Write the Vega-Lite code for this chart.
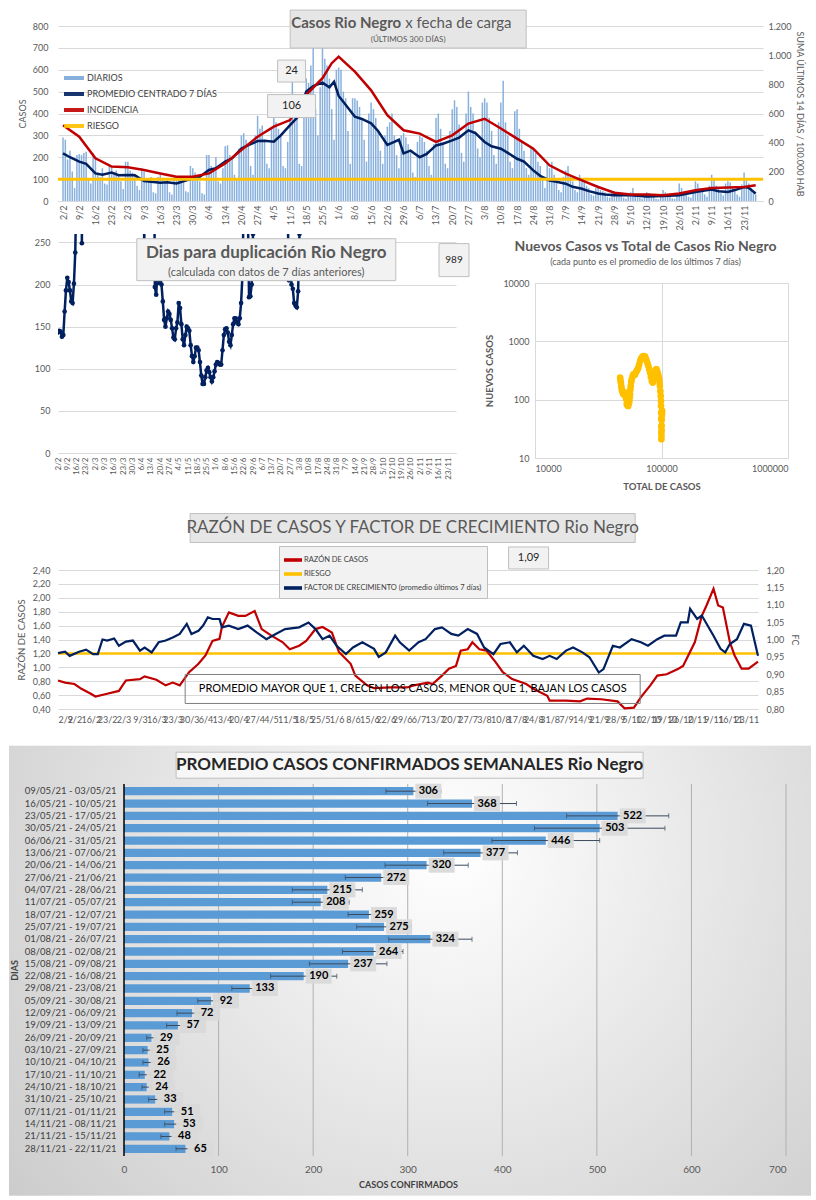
{
"$schema": "https://vega.github.io/schema/vega-lite/v6.json",
"background": "white",
"padding": {"left": 8, "top": 8, "right": 0, "bottom": 0},
"spacing": 20,
"resolve": {"scale": {"color": "independent"}},
"config": {
  "font": "Lato",
  "view": {"stroke": null},
  "locale": {"number": {"decimal": ",", "thousands": ".", "grouping": [3], "currency": ["$", ""]}},
  "axis": {"labelColor": "#595959", "titleColor": "#595959", "labelFontSize": 9, "titleFontSize": 9, "titleFontWeight": "normal", "gridColor": "#D9D9D9", "domainColor": "#D9D9D9", "ticks": false, "domain": false, "labelFont": "Lato", "titleFont": "Lato"},
  "legend": {"labelFont": "Lato"}
},
"datasets": {
"diarios": [
{"fecha":"2021-02-02","casos":290},{"fecha":"2021-02-03","casos":280},{"fecha":"2021-02-04","casos":190},{"fecha":"2021-02-05","casos":230},{"fecha":"2021-02-06","casos":135},{"fecha":"2021-02-07","casos":60},{"fecha":"2021-02-08","casos":210},
{"fecha":"2021-02-09","casos":215},{"fecha":"2021-02-10","casos":210},{"fecha":"2021-02-11","casos":220},{"fecha":"2021-02-12","casos":225},{"fecha":"2021-02-13","casos":100},{"fecha":"2021-02-14","casos":80},{"fecha":"2021-02-15","casos":220},
{"fecha":"2021-02-16","casos":200},{"fecha":"2021-02-17","casos":130},{"fecha":"2021-02-18","casos":110},{"fecha":"2021-02-19","casos":150},{"fecha":"2021-02-20","casos":80},{"fecha":"2021-02-21","casos":75},{"fecha":"2021-02-22","casos":165},
{"fecha":"2021-02-23","casos":160},{"fecha":"2021-02-24","casos":130},{"fecha":"2021-02-25","casos":140},{"fecha":"2021-02-26","casos":120},{"fecha":"2021-02-27","casos":90},{"fecha":"2021-02-28","casos":55},{"fecha":"2021-03-01","casos":180},
{"fecha":"2021-03-02","casos":180},{"fecha":"2021-03-03","casos":140},{"fecha":"2021-03-04","casos":130},{"fecha":"2021-03-05","casos":125},{"fecha":"2021-03-06","casos":70},{"fecha":"2021-03-07","casos":50},{"fecha":"2021-03-08","casos":150},
{"fecha":"2021-03-09","casos":135},{"fecha":"2021-03-10","casos":100},{"fecha":"2021-03-11","casos":95},{"fecha":"2021-03-12","casos":110},{"fecha":"2021-03-13","casos":40},{"fecha":"2021-03-14","casos":35},{"fecha":"2021-03-15","casos":110},
{"fecha":"2021-03-16","casos":120},{"fecha":"2021-03-17","casos":100},{"fecha":"2021-03-18","casos":90},{"fecha":"2021-03-19","casos":95},{"fecha":"2021-03-20","casos":40},{"fecha":"2021-03-21","casos":30},{"fecha":"2021-03-22","casos":110},
{"fecha":"2021-03-23","casos":110},{"fecha":"2021-03-24","casos":95},{"fecha":"2021-03-25","casos":100},{"fecha":"2021-03-26","casos":85},{"fecha":"2021-03-27","casos":45},{"fecha":"2021-03-28","casos":40},{"fecha":"2021-03-29","casos":160},
{"fecha":"2021-03-30","casos":150},{"fecha":"2021-03-31","casos":130},{"fecha":"2021-04-01","casos":120},{"fecha":"2021-04-02","casos":90},{"fecha":"2021-04-03","casos":35},{"fecha":"2021-04-04","casos":30},{"fecha":"2021-04-05","casos":210},
{"fecha":"2021-04-06","casos":210},{"fecha":"2021-04-07","casos":160},{"fecha":"2021-04-08","casos":140},{"fecha":"2021-04-09","casos":200},{"fecha":"2021-04-10","casos":90},{"fecha":"2021-04-11","casos":80},{"fecha":"2021-04-12","casos":150},
{"fecha":"2021-04-13","casos":250},{"fecha":"2021-04-14","casos":255},{"fecha":"2021-04-15","casos":210},{"fecha":"2021-04-16","casos":190},{"fecha":"2021-04-17","casos":120},{"fecha":"2021-04-18","casos":100},{"fecha":"2021-04-19","casos":240},
{"fecha":"2021-04-20","casos":300},{"fecha":"2021-04-21","casos":310},{"fecha":"2021-04-22","casos":280},{"fecha":"2021-04-23","casos":260},{"fecha":"2021-04-24","casos":160},{"fecha":"2021-04-25","casos":120},{"fecha":"2021-04-26","casos":300},
{"fecha":"2021-04-27","casos":390},{"fecha":"2021-04-28","casos":330},{"fecha":"2021-04-29","casos":345},{"fecha":"2021-04-30","casos":280},{"fecha":"2021-05-01","casos":170},{"fecha":"2021-05-02","casos":150},{"fecha":"2021-05-03","casos":330},
{"fecha":"2021-05-04","casos":380},{"fecha":"2021-05-05","casos":360},{"fecha":"2021-05-06","casos":330},{"fecha":"2021-05-07","casos":300},{"fecha":"2021-05-08","casos":160},{"fecha":"2021-05-09","casos":150},{"fecha":"2021-05-10","casos":270},
{"fecha":"2021-05-11","casos":450},{"fecha":"2021-05-12","casos":550},{"fecha":"2021-05-13","casos":420},{"fecha":"2021-05-14","casos":390},{"fecha":"2021-05-15","casos":170},{"fecha":"2021-05-16","casos":160},{"fecha":"2021-05-17","casos":380},
{"fecha":"2021-05-18","casos":560},{"fecha":"2021-05-19","casos":540},{"fecha":"2021-05-20","casos":620},{"fecha":"2021-05-21","casos":700},{"fecha":"2021-05-22","casos":420},{"fecha":"2021-05-23","casos":300},{"fecha":"2021-05-24","casos":520},
{"fecha":"2021-05-25","casos":700},{"fecha":"2021-05-26","casos":650},{"fecha":"2021-05-27","casos":620},{"fecha":"2021-05-28","casos":560},{"fecha":"2021-05-29","casos":420},{"fecha":"2021-05-30","casos":280},{"fecha":"2021-05-31","casos":600},
{"fecha":"2021-06-01","casos":610},{"fecha":"2021-06-02","casos":600},{"fecha":"2021-06-03","casos":500},{"fecha":"2021-06-04","casos":470},{"fecha":"2021-06-05","casos":320},{"fecha":"2021-06-06","casos":170},{"fecha":"2021-06-07","casos":470},
{"fecha":"2021-06-08","casos":470},{"fecha":"2021-06-09","casos":460},{"fecha":"2021-06-10","casos":430},{"fecha":"2021-06-11","casos":380},{"fecha":"2021-06-12","casos":280},{"fecha":"2021-06-13","casos":180},{"fecha":"2021-06-14","casos":400},
{"fecha":"2021-06-15","casos":450},{"fecha":"2021-06-16","casos":420},{"fecha":"2021-06-17","casos":380},{"fecha":"2021-06-18","casos":320},{"fecha":"2021-06-19","casos":230},{"fecha":"2021-06-20","casos":170},{"fecha":"2021-06-21","casos":300},
{"fecha":"2021-06-22","casos":340},{"fecha":"2021-06-23","casos":360},{"fecha":"2021-06-24","casos":400},{"fecha":"2021-06-25","casos":300},{"fecha":"2021-06-26","casos":210},{"fecha":"2021-06-27","casos":150},{"fecha":"2021-06-28","casos":300},
{"fecha":"2021-06-29","casos":310},{"fecha":"2021-06-30","casos":290},{"fecha":"2021-07-01","casos":260},{"fecha":"2021-07-02","casos":220},{"fecha":"2021-07-03","casos":130},{"fecha":"2021-07-04","casos":110},{"fecha":"2021-07-05","casos":270},
{"fecha":"2021-07-06","casos":300},{"fecha":"2021-07-07","casos":290},{"fecha":"2021-07-08","casos":270},{"fecha":"2021-07-09","casos":230},{"fecha":"2021-07-10","casos":160},{"fecha":"2021-07-11","casos":120},{"fecha":"2021-07-12","casos":260},
{"fecha":"2021-07-13","casos":380},{"fecha":"2021-07-14","casos":400},{"fecha":"2021-07-15","casos":330},{"fecha":"2021-07-16","casos":270},{"fecha":"2021-07-17","casos":170},{"fecha":"2021-07-18","casos":150},{"fecha":"2021-07-19","casos":320},
{"fecha":"2021-07-20","casos":420},{"fecha":"2021-07-21","casos":460},{"fecha":"2021-07-22","casos":430},{"fecha":"2021-07-23","casos":350},{"fecha":"2021-07-24","casos":220},{"fecha":"2021-07-25","casos":180},{"fecha":"2021-07-26","casos":400},
{"fecha":"2021-07-27","casos":500},{"fecha":"2021-07-28","casos":430},{"fecha":"2021-07-29","casos":400},{"fecha":"2021-07-30","casos":320},{"fecha":"2021-07-31","casos":240},{"fecha":"2021-08-01","casos":200},{"fecha":"2021-08-02","casos":450},
{"fecha":"2021-08-03","casos":470},{"fecha":"2021-08-04","casos":450},{"fecha":"2021-08-05","casos":380},{"fecha":"2021-08-06","casos":320},{"fecha":"2021-08-07","casos":210},{"fecha":"2021-08-08","casos":170},{"fecha":"2021-08-09","casos":360},
{"fecha":"2021-08-10","casos":450},{"fecha":"2021-08-11","casos":550},{"fecha":"2021-08-12","casos":360},{"fecha":"2021-08-13","casos":300},{"fecha":"2021-08-14","casos":180},{"fecha":"2021-08-15","casos":150},{"fecha":"2021-08-16","casos":410},
{"fecha":"2021-08-17","casos":420},{"fecha":"2021-08-18","casos":330},{"fecha":"2021-08-19","casos":270},{"fecha":"2021-08-20","casos":230},{"fecha":"2021-08-21","casos":150},{"fecha":"2021-08-22","casos":120},{"fecha":"2021-08-23","casos":250},
{"fecha":"2021-08-24","casos":240},{"fecha":"2021-08-25","casos":220},{"fecha":"2021-08-26","casos":180},{"fecha":"2021-08-27","casos":160},{"fecha":"2021-08-28","casos":100},{"fecha":"2021-08-29","casos":60},{"fecha":"2021-08-30","casos":170},
{"fecha":"2021-08-31","casos":150},{"fecha":"2021-09-01","casos":180},{"fecha":"2021-09-02","casos":120},{"fecha":"2021-09-03","casos":100},{"fecha":"2021-09-04","casos":50},{"fecha":"2021-09-05","casos":40},{"fecha":"2021-09-06","casos":110},
{"fecha":"2021-09-07","casos":140},{"fecha":"2021-09-08","casos":160},{"fecha":"2021-09-09","casos":110},{"fecha":"2021-09-10","casos":90},{"fecha":"2021-09-11","casos":50},{"fecha":"2021-09-12","casos":40},{"fecha":"2021-09-13","casos":120},
{"fecha":"2021-09-14","casos":100},{"fecha":"2021-09-15","casos":90},{"fecha":"2021-09-16","casos":70},{"fecha":"2021-09-17","casos":60},{"fecha":"2021-09-18","casos":30},{"fecha":"2021-09-19","casos":25},{"fecha":"2021-09-20","casos":60},
{"fecha":"2021-09-21","casos":70},{"fecha":"2021-09-22","casos":50},{"fecha":"2021-09-23","casos":45},{"fecha":"2021-09-24","casos":40},{"fecha":"2021-09-25","casos":20},{"fecha":"2021-09-26","casos":15},{"fecha":"2021-09-27","casos":40},
{"fecha":"2021-09-28","casos":45},{"fecha":"2021-09-29","casos":35},{"fecha":"2021-09-30","casos":30},{"fecha":"2021-10-01","casos":25},{"fecha":"2021-10-02","casos":15},{"fecha":"2021-10-03","casos":10},{"fecha":"2021-10-04","casos":35},
{"fecha":"2021-10-05","casos":40},{"fecha":"2021-10-06","casos":60},{"fecha":"2021-10-07","casos":35},{"fecha":"2021-10-08","casos":25},{"fecha":"2021-10-09","casos":15},{"fecha":"2021-10-10","casos":10},{"fecha":"2021-10-11","casos":30},
{"fecha":"2021-10-12","casos":40},{"fecha":"2021-10-13","casos":35},{"fecha":"2021-10-14","casos":25},{"fecha":"2021-10-15","casos":20},{"fecha":"2021-10-16","casos":10},{"fecha":"2021-10-17","casos":8},{"fecha":"2021-10-18","casos":30},
{"fecha":"2021-10-19","casos":50},{"fecha":"2021-10-20","casos":40},{"fecha":"2021-10-21","casos":30},{"fecha":"2021-10-22","casos":25},{"fecha":"2021-10-23","casos":12},{"fecha":"2021-10-24","casos":10},{"fecha":"2021-10-25","casos":35},
{"fecha":"2021-10-26","casos":80},{"fecha":"2021-10-27","casos":60},{"fecha":"2021-10-28","casos":40},{"fecha":"2021-10-29","casos":35},{"fecha":"2021-10-30","casos":20},{"fecha":"2021-10-31","casos":15},{"fecha":"2021-11-01","casos":50},
{"fecha":"2021-11-02","casos":90},{"fecha":"2021-11-03","casos":80},{"fecha":"2021-11-04","casos":60},{"fecha":"2021-11-05","casos":50},{"fecha":"2021-11-06","casos":30},{"fecha":"2021-11-07","casos":20},{"fecha":"2021-11-08","casos":70},
{"fecha":"2021-11-09","casos":120},{"fecha":"2021-11-10","casos":100},{"fecha":"2021-11-11","casos":70},{"fecha":"2021-11-12","casos":60},{"fecha":"2021-11-13","casos":35},{"fecha":"2021-11-14","casos":25},{"fecha":"2021-11-15","casos":80},
{"fecha":"2021-11-16","casos":90},{"fecha":"2021-11-17","casos":85},{"fecha":"2021-11-18","casos":65},{"fecha":"2021-11-19","casos":55},{"fecha":"2021-11-20","casos":30},{"fecha":"2021-11-21","casos":20},{"fecha":"2021-11-22","casos":75},
{"fecha":"2021-11-23","casos":130},{"fecha":"2021-11-24","casos":100},{"fecha":"2021-11-25","casos":80},{"fecha":"2021-11-26","casos":60},{"fecha":"2021-11-27","casos":40},{"fecha":"2021-11-28","casos":30}
],
"prom": [
{"fecha":"2021-02-02","valor":218},{"fecha":"2021-02-05","valor":200},{"fecha":"2021-02-09","valor":180},{"fecha":"2021-02-12","valor":170},{"fecha":"2021-02-16","valor":126},{"fecha":"2021-02-19","valor":120},{"fecha":"2021-02-23","valor":130},{"fecha":"2021-02-26","valor":118},
{"fecha":"2021-03-02","valor":119},{"fecha":"2021-03-05","valor":118},{"fecha":"2021-03-09","valor":91},{"fecha":"2021-03-12","valor":88},{"fecha":"2021-03-16","valor":84},{"fecha":"2021-03-19","valor":86},{"fecha":"2021-03-23","valor":80},{"fecha":"2021-03-26","valor":90},{"fecha":"2021-03-30","valor":104},
{"fecha":"2021-04-02","valor":110},{"fecha":"2021-04-06","valor":142},{"fecha":"2021-04-09","valor":150},{"fecha":"2021-04-13","valor":180},{"fecha":"2021-04-16","valor":195},{"fecha":"2021-04-20","valor":240},{"fecha":"2021-04-23","valor":255},{"fecha":"2021-04-27","valor":274},{"fecha":"2021-04-30","valor":275},
{"fecha":"2021-05-04","valor":271},{"fecha":"2021-05-07","valor":300},{"fecha":"2021-05-11","valor":347},{"fecha":"2021-05-14","valor":380},{"fecha":"2021-05-18","valor":500},{"fecha":"2021-05-21","valor":525},{"fecha":"2021-05-25","valor":541},{"fecha":"2021-05-28","valor":520},{"fecha":"2021-05-30","valor":545},
{"fecha":"2021-06-01","valor":480},{"fecha":"2021-06-04","valor":440},{"fecha":"2021-06-08","valor":385},{"fecha":"2021-06-11","valor":375},{"fecha":"2021-06-15","valor":355},{"fecha":"2021-06-18","valor":320},{"fecha":"2021-06-22","valor":256},{"fecha":"2021-06-25","valor":270},{"fecha":"2021-06-27","valor":280},{"fecha":"2021-06-29","valor":218},
{"fecha":"2021-07-02","valor":230},{"fecha":"2021-07-06","valor":200},{"fecha":"2021-07-09","valor":215},{"fecha":"2021-07-13","valor":254},{"fecha":"2021-07-16","valor":262},{"fecha":"2021-07-20","valor":277},{"fecha":"2021-07-23","valor":290},{"fecha":"2021-07-27","valor":323},{"fecha":"2021-07-30","valor":310},
{"fecha":"2021-08-03","valor":270},{"fecha":"2021-08-06","valor":250},{"fecha":"2021-08-10","valor":239},{"fecha":"2021-08-13","valor":220},{"fecha":"2021-08-17","valor":193},{"fecha":"2021-08-20","valor":180},{"fecha":"2021-08-24","valor":140},{"fecha":"2021-08-27","valor":115},{"fecha":"2021-08-31","valor":94},
{"fecha":"2021-09-03","valor":88},{"fecha":"2021-09-07","valor":79},{"fecha":"2021-09-10","valor":65},{"fecha":"2021-09-14","valor":56},{"fecha":"2021-09-17","valor":45},{"fecha":"2021-09-21","valor":34},{"fecha":"2021-09-24","valor":30},{"fecha":"2021-09-28","valor":26},
{"fecha":"2021-10-05","valor":26},{"fecha":"2021-10-12","valor":21},{"fecha":"2021-10-19","valor":23},{"fecha":"2021-10-26","valor":26},
{"fecha":"2021-11-02","valor":41},{"fecha":"2021-11-06","valor":48},{"fecha":"2021-11-09","valor":52},{"fecha":"2021-11-12","valor":45},{"fecha":"2021-11-16","valor":41},{"fecha":"2021-11-19","valor":50},{"fecha":"2021-11-23","valor":64},{"fecha":"2021-11-25","valor":60},{"fecha":"2021-11-28","valor":34}
],
"incid": [
{"fecha":"2021-02-02","valor":520},{"fecha":"2021-02-09","valor":441},{"fecha":"2021-02-16","valor":293},{"fecha":"2021-02-23","valor":236},{"fecha":"2021-03-02","valor":231},{"fecha":"2021-03-09","valor":213},{"fecha":"2021-03-16","valor":189},{"fecha":"2021-03-23","valor":167},{"fecha":"2021-03-30","valor":167},
{"fecha":"2021-04-06","valor":189},{"fecha":"2021-04-13","valor":258},{"fecha":"2021-04-20","valor":350},{"fecha":"2021-04-27","valor":441},{"fecha":"2021-05-04","valor":510},{"fecha":"2021-05-11","valor":555},{"fecha":"2021-05-18","valor":728},{"fecha":"2021-05-25","valor":842},{"fecha":"2021-05-29","valor":945},
{"fecha":"2021-06-01","valor":990},{"fecha":"2021-06-04","valor":945},{"fecha":"2021-06-08","valor":887},{"fecha":"2021-06-15","valor":759},{"fecha":"2021-06-22","valor":588},{"fecha":"2021-06-29","valor":485},{"fecha":"2021-07-06","valor":462},{"fecha":"2021-07-13","valor":405},{"fecha":"2021-07-20","valor":450},{"fecha":"2021-07-27","valor":531},
{"fecha":"2021-08-03","valor":564},{"fecha":"2021-08-10","valor":497},{"fecha":"2021-08-17","valor":428},{"fecha":"2021-08-24","valor":359},{"fecha":"2021-08-31","valor":245},{"fecha":"2021-09-07","valor":188},{"fecha":"2021-09-14","valor":141},{"fecha":"2021-09-21","valor":96},{"fecha":"2021-09-28","valor":57},
{"fecha":"2021-10-05","valor":45},{"fecha":"2021-10-12","valor":44},{"fecha":"2021-10-19","valor":39},{"fecha":"2021-10-26","valor":51},{"fecha":"2021-11-02","valor":74},{"fecha":"2021-11-09","valor":89},{"fecha":"2021-11-16","valor":92},{"fecha":"2021-11-23","valor":96},{"fecha":"2021-11-28","valor":108}
],
"duplicacion": [
{"fecha":"2021-02-02","dias":143},{"fecha":"2021-02-03","dias":145},{"fecha":"2021-02-04","dias":144},{"fecha":"2021-02-05","dias":138},{"fecha":"2021-02-06","dias":140},{"fecha":"2021-02-07","dias":168},{"fecha":"2021-02-08","dias":193},{"fecha":"2021-02-09","dias":208},{"fecha":"2021-02-10","dias":203},{"fecha":"2021-02-11","dias":193},{"fecha":"2021-02-12","dias":180},{"fecha":"2021-02-13","dias":178},{"fecha":"2021-02-14","dias":201},{"fecha":"2021-02-15","dias":238},{"fecha":"2021-02-16","dias":320},{"fecha":"2021-02-17","dias":600},
{"fecha":"2021-02-19","dias":600},{"fecha":"2021-02-20","dias":249},{"fecha":"2021-02-21","dias":600},{"fecha":"2021-03-14","dias":900},{"fecha":"2021-04-03","dias":900},{"fecha":"2021-04-07","dias":600},{"fecha":"2021-04-08","dias":235},{"fecha":"2021-04-09","dias":600},{"fecha":"2021-04-15","dias":500},
{"fecha":"2021-04-16","dias":197},{"fecha":"2021-04-17","dias":188},{"fecha":"2021-04-18","dias":215},{"fecha":"2021-04-19","dias":202},{"fecha":"2021-04-20","dias":210},{"fecha":"2021-04-21","dias":200},{"fecha":"2021-04-22","dias":180},{"fecha":"2021-04-23","dias":158},{"fecha":"2021-04-24","dias":150},{"fecha":"2021-04-25","dias":160},{"fecha":"2021-04-26","dias":168},{"fecha":"2021-04-27","dias":165},{"fecha":"2021-04-28","dias":158},{"fecha":"2021-04-29","dias":148},{"fecha":"2021-04-30","dias":137},
{"fecha":"2021-05-01","dias":135},{"fecha":"2021-05-02","dias":148},{"fecha":"2021-05-03","dias":155},{"fecha":"2021-05-04","dias":178},{"fecha":"2021-05-05","dias":172},{"fecha":"2021-05-06","dias":153},{"fecha":"2021-05-07","dias":135},{"fecha":"2021-05-08","dias":128},{"fecha":"2021-05-09","dias":140},{"fecha":"2021-05-10","dias":150},{"fecha":"2021-05-11","dias":148},{"fecha":"2021-05-12","dias":145},{"fecha":"2021-05-13","dias":128},{"fecha":"2021-05-14","dias":115},{"fecha":"2021-05-15","dias":108},{"fecha":"2021-05-16","dias":115},{"fecha":"2021-05-17","dias":125},{"fecha":"2021-05-18","dias":125},{"fecha":"2021-05-19","dias":122},{"fecha":"2021-05-20","dias":108},{"fecha":"2021-05-21","dias":92},{"fecha":"2021-05-22","dias":82},{"fecha":"2021-05-23","dias":82},{"fecha":"2021-05-24","dias":90},{"fecha":"2021-05-25","dias":98},{"fecha":"2021-05-26","dias":101},{"fecha":"2021-05-27","dias":96},{"fecha":"2021-05-28","dias":90},{"fecha":"2021-05-29","dias":85},{"fecha":"2021-05-30","dias":90},{"fecha":"2021-05-31","dias":97},
{"fecha":"2021-06-01","dias":105},{"fecha":"2021-06-02","dias":108},{"fecha":"2021-06-03","dias":107},{"fecha":"2021-06-04","dias":105},{"fecha":"2021-06-05","dias":105},{"fecha":"2021-06-06","dias":122},{"fecha":"2021-06-07","dias":140},{"fecha":"2021-06-08","dias":147},{"fecha":"2021-06-09","dias":148},{"fecha":"2021-06-10","dias":143},{"fecha":"2021-06-11","dias":132},{"fecha":"2021-06-12","dias":128},{"fecha":"2021-06-13","dias":140},{"fecha":"2021-06-14","dias":153},{"fecha":"2021-06-15","dias":160},{"fecha":"2021-06-16","dias":160},{"fecha":"2021-06-17","dias":155},{"fecha":"2021-06-18","dias":153},{"fecha":"2021-06-19","dias":160},{"fecha":"2021-06-20","dias":178},{"fecha":"2021-06-21","dias":210},{"fecha":"2021-06-22","dias":300},{"fecha":"2021-06-23","dias":400},{"fecha":"2021-06-24","dias":350},{"fecha":"2021-06-25","dias":300},{"fecha":"2021-06-26","dias":185},{"fecha":"2021-06-27","dias":186},{"fecha":"2021-06-28","dias":200},{"fecha":"2021-06-29","dias":260},{"fecha":"2021-06-30","dias":400},
{"fecha":"2021-07-10","dias":900},{"fecha":"2021-07-24","dias":400},{"fecha":"2021-07-25","dias":300},{"fecha":"2021-07-26","dias":205},{"fecha":"2021-07-27","dias":230},{"fecha":"2021-07-28","dias":200},{"fecha":"2021-07-29","dias":195},{"fecha":"2021-07-30","dias":178},{"fecha":"2021-07-31","dias":175},{"fecha":"2021-08-01","dias":173},{"fecha":"2021-08-02","dias":192},{"fecha":"2021-08-03","dias":260},{"fecha":"2021-08-04","dias":400},
{"fecha":"2021-09-01","dias":900},{"fecha":"2021-10-01","dias":900},{"fecha":"2021-11-28","dias":900}
],
"nuevos": [
{"total":47100,"nuevos":239},{"total":47400,"nuevos":215},{"total":47700,"nuevos":196},{"total":48100,"nuevos":170},{"total":48500,"nuevos":151},{"total":49000,"nuevos":140},{"total":49500,"nuevos":130},{"total":50000,"nuevos":124},{"total":50600,"nuevos":128},{"total":51300,"nuevos":133},{"total":51900,"nuevos":115},{"total":52600,"nuevos":102},{"total":53100,"nuevos":84},{"total":53800,"nuevos":80},{"total":54500,"nuevos":78},{"total":55200,"nuevos":86},{"total":55800,"nuevos":95},{"total":56100,"nuevos":110},{"total":56400,"nuevos":124},{"total":56800,"nuevos":150},{"total":57100,"nuevos":171},{"total":57600,"nuevos":200},{"total":58200,"nuevos":223},{"total":59000,"nuevos":250},{"total":60000,"nuevos":272},{"total":61000,"nuevos":265},{"total":61900,"nuevos":272},{"total":62800,"nuevos":295},{"total":63600,"nuevos":311},{"total":64600,"nuevos":330},{"total":65600,"nuevos":354},{"total":66600,"nuevos":400},{"total":67700,"nuevos":460},{"total":68800,"nuevos":500},{"total":69900,"nuevos":525},{"total":71000,"nuevos":545},{"total":72000,"nuevos":560},{"total":73000,"nuevos":555},{"total":74100,"nuevos":547},{"total":75300,"nuevos":500},{"total":76500,"nuevos":460},{"total":77600,"nuevos":415},{"total":78800,"nuevos":376},{"total":80000,"nuevos":330},{"total":81200,"nuevos":290},{"total":82500,"nuevos":245},{"total":83800,"nuevos":210},{"total":85200,"nuevos":196},{"total":86300,"nuevos":215},{"total":87400,"nuevos":239},{"total":88500,"nuevos":280},{"total":89700,"nuevos":322},{"total":90600,"nuevos":330},{"total":91500,"nuevos":331},{"total":92800,"nuevos":300},{"total":94000,"nuevos":272},{"total":95000,"nuevos":245},{"total":96000,"nuevos":223},{"total":96600,"nuevos":195},{"total":97100,"nuevos":171},{"total":97900,"nuevos":140},{"total":98600,"nuevos":116},{"total":99000,"nuevos":95},{"total":99100,"nuevos":78},{"total":99300,"nuevos":60},{"total":99500,"nuevos":47},{"total":99600,"nuevos":35},{"total":99650,"nuevos":27},{"total":99800,"nuevos":21},{"total":100000,"nuevos":24},{"total":100100,"nuevos":30},{"total":100200,"nuevos":36},{"total":100300,"nuevos":45},{"total":100600,"nuevos":53},{"total":100900,"nuevos":58},{"total":101200,"nuevos":64}
],
"razon": [
{"fecha":"2021-02-02","valor":0.81},{"fecha":"2021-02-05","valor":0.78},{"fecha":"2021-02-09","valor":0.76},{"fecha":"2021-02-12","valor":0.69},{"fecha":"2021-02-16","valor":0.62},{"fecha":"2021-02-18","valor":0.58},{"fecha":"2021-02-23","valor":0.62},{"fecha":"2021-02-28","valor":0.66},{"fecha":"2021-03-03","valor":0.81},{"fecha":"2021-03-09","valor":0.83},{"fecha":"2021-03-11","valor":0.87},{"fecha":"2021-03-16","valor":0.82},{"fecha":"2021-03-20","valor":0.74},{"fecha":"2021-03-23","valor":0.78},{"fecha":"2021-03-26","valor":0.74},{"fecha":"2021-03-30","valor":0.93},
{"fecha":"2021-04-03","valor":1.05},{"fecha":"2021-04-06","valor":1.17},{"fecha":"2021-04-09","valor":1.38},{"fecha":"2021-04-12","valor":1.41},{"fecha":"2021-04-13","valor":1.58},{"fecha":"2021-04-16","valor":1.79},{"fecha":"2021-04-20","valor":1.74},{"fecha":"2021-04-23","valor":1.74},{"fecha":"2021-04-27","valor":1.81},{"fecha":"2021-04-30","valor":1.55},
{"fecha":"2021-05-04","valor":1.46},{"fecha":"2021-05-09","valor":1.36},{"fecha":"2021-05-12","valor":1.26},{"fecha":"2021-05-16","valor":1.31},{"fecha":"2021-05-19","valor":1.38},{"fecha":"2021-05-23","valor":1.55},{"fecha":"2021-05-26","valor":1.58},{"fecha":"2021-05-30","valor":1.50},
{"fecha":"2021-06-02","valor":1.22},{"fecha":"2021-06-07","valor":1.05},{"fecha":"2021-06-09","valor":0.88},{"fecha":"2021-06-14","valor":0.74},{"fecha":"2021-06-17","valor":0.70},{"fecha":"2021-06-24","valor":0.71},{"fecha":"2021-07-01","valor":0.71},{"fecha":"2021-07-04","valor":0.74},{"fecha":"2021-07-10","valor":0.78},{"fecha":"2021-07-12","valor":0.76},{"fecha":"2021-07-16","valor":0.88},{"fecha":"2021-07-19","valor":0.98},{"fecha":"2021-07-22","valor":1.02},{"fecha":"2021-07-24","valor":1.24},{"fecha":"2021-07-27","valor":1.26},{"fecha":"2021-07-29","valor":1.36},
{"fecha":"2021-08-01","valor":1.26},{"fecha":"2021-08-04","valor":1.24},{"fecha":"2021-08-08","valor":1.07},{"fecha":"2021-08-11","valor":0.93},{"fecha":"2021-08-15","valor":0.83},{"fecha":"2021-08-21","valor":0.76},{"fecha":"2021-08-24","valor":0.69},{"fecha":"2021-08-30","valor":0.59},{"fecha":"2021-08-31","valor":0.52},
{"fecha":"2021-09-07","valor":0.52},{"fecha":"2021-09-13","valor":0.51},{"fecha":"2021-09-16","valor":0.55},{"fecha":"2021-09-22","valor":0.54},{"fecha":"2021-09-29","valor":0.51},{"fecha":"2021-10-02","valor":0.41},{"fecha":"2021-10-06","valor":0.42},{"fecha":"2021-10-09","valor":0.57},{"fecha":"2021-10-13","valor":0.74},{"fecha":"2021-10-16","valor":0.88},{"fecha":"2021-10-20","valor":0.90},{"fecha":"2021-10-25","valor":0.98},{"fecha":"2021-10-27","valor":1.02},
{"fecha":"2021-11-01","valor":1.36},{"fecha":"2021-11-04","valor":1.74},{"fecha":"2021-11-06","valor":1.89},{"fecha":"2021-11-09","valor":2.13},{"fecha":"2021-11-11","valor":1.89},{"fecha":"2021-11-13","valor":1.86},{"fecha":"2021-11-16","valor":1.36},{"fecha":"2021-11-18","valor":1.17},{"fecha":"2021-11-21","valor":0.98},{"fecha":"2021-11-24","valor":0.98},{"fecha":"2021-11-28","valor":1.08}
],
"fc": [
{"fecha":"2021-02-02","valor":0.961},{"fecha":"2021-02-05","valor":0.965},{"fecha":"2021-02-07","valor":0.953},{"fecha":"2021-02-11","valor":0.965},{"fecha":"2021-02-14","valor":0.971},{"fecha":"2021-02-17","valor":0.958},{"fecha":"2021-02-19","valor":0.958},{"fecha":"2021-02-21","valor":1.0},{"fecha":"2021-02-23","valor":0.997},{"fecha":"2021-02-26","valor":1.003},{"fecha":"2021-02-28","valor":0.982},
{"fecha":"2021-03-03","valor":0.994},{"fecha":"2021-03-06","valor":0.997},{"fecha":"2021-03-09","valor":0.968},{"fecha":"2021-03-11","valor":0.977},{"fecha":"2021-03-14","valor":0.963},{"fecha":"2021-03-17","valor":0.992},{"fecha":"2021-03-20","valor":0.997},{"fecha":"2021-03-23","valor":1.006},{"fecha":"2021-03-26","valor":1.016},{"fecha":"2021-03-29","valor":1.045},{"fecha":"2021-03-31","valor":1.016},
{"fecha":"2021-04-03","valor":1.025},{"fecha":"2021-04-05","valor":1.04},{"fecha":"2021-04-07","valor":1.064},{"fecha":"2021-04-09","valor":1.059},{"fecha":"2021-04-12","valor":1.059},{"fecha":"2021-04-13","valor":1.035},{"fecha":"2021-04-16","valor":1.04},{"fecha":"2021-04-20","valor":1.03},{"fecha":"2021-04-24","valor":1.04},{"fecha":"2021-04-28","valor":1.02},
{"fecha":"2021-05-02","valor":1.001},{"fecha":"2021-05-06","valor":1.016},{"fecha":"2021-05-10","valor":1.03},{"fecha":"2021-05-16","valor":1.035},{"fecha":"2021-05-20","valor":1.049},{"fecha":"2021-05-23","valor":1.03},{"fecha":"2021-05-26","valor":1.001},{"fecha":"2021-05-29","valor":1.011},
{"fecha":"2021-06-01","valor":0.982},{"fecha":"2021-06-05","valor":0.958},{"fecha":"2021-06-08","valor":0.977},{"fecha":"2021-06-12","valor":0.992},{"fecha":"2021-06-17","valor":0.973},{"fecha":"2021-06-19","valor":0.95},{"fecha":"2021-06-22","valor":0.963},{"fecha":"2021-06-26","valor":1.011},{"fecha":"2021-06-28","valor":0.992},
{"fecha":"2021-07-02","valor":0.968},{"fecha":"2021-07-06","valor":0.992},{"fecha":"2021-07-09","valor":1.001},{"fecha":"2021-07-13","valor":1.03},{"fecha":"2021-07-16","valor":1.035},{"fecha":"2021-07-20","valor":1.016},{"fecha":"2021-07-23","valor":1.011},{"fecha":"2021-07-27","valor":1.03},{"fecha":"2021-07-31","valor":1.016},
{"fecha":"2021-08-03","valor":0.977},{"fecha":"2021-08-07","valor":0.958},{"fecha":"2021-08-10","valor":0.987},{"fecha":"2021-08-14","valor":0.992},{"fecha":"2021-08-17","valor":0.963},{"fecha":"2021-08-20","valor":0.982},{"fecha":"2021-08-24","valor":0.953},{"fecha":"2021-08-28","valor":0.944},{"fecha":"2021-08-31","valor":0.953},
{"fecha":"2021-09-03","valor":0.944},{"fecha":"2021-09-07","valor":0.968},{"fecha":"2021-09-10","valor":0.977},{"fecha":"2021-09-14","valor":0.963},{"fecha":"2021-09-17","valor":0.949},{"fecha":"2021-09-21","valor":0.905},{"fecha":"2021-09-23","valor":0.915},{"fecha":"2021-09-27","valor":0.982},{"fecha":"2021-09-30","valor":0.977},
{"fecha":"2021-10-05","valor":1.001},{"fecha":"2021-10-09","valor":0.992},{"fecha":"2021-10-12","valor":0.982},{"fecha":"2021-10-16","valor":1.001},{"fecha":"2021-10-19","valor":1.011},{"fecha":"2021-10-24","valor":1.011},{"fecha":"2021-10-26","valor":1.049},{"fecha":"2021-10-29","valor":1.049},{"fecha":"2021-10-30","valor":1.088},
{"fecha":"2021-11-02","valor":1.059},{"fecha":"2021-11-04","valor":1.069},{"fecha":"2021-11-09","valor":1.011},{"fecha":"2021-11-12","valor":0.973},{"fecha":"2021-11-14","valor":0.963},{"fecha":"2021-11-16","valor":0.987},{"fecha":"2021-11-19","valor":1.001},{"fecha":"2021-11-22","valor":1.045},{"fecha":"2021-11-25","valor":1.04},{"fecha":"2021-11-26","valor":1.011},{"fecha":"2021-11-28","valor":0.953}
],
"semanas": [
{"semana":"09/05/21 - 03/05/21","valor":306,"lo":277,"hi":335},
{"semana":"16/05/21 - 10/05/21","valor":368,"lo":321,"hi":415},
{"semana":"23/05/21 - 17/05/21","valor":522,"lo":468,"hi":576},
{"semana":"30/05/21 - 24/05/21","valor":503,"lo":434,"hi":572},
{"semana":"06/06/21 - 31/05/21","valor":446,"lo":389,"hi":503},
{"semana":"13/06/21 - 07/06/21","valor":377,"lo":338,"hi":416},
{"semana":"20/06/21 - 14/06/21","valor":320,"lo":276,"hi":364},
{"semana":"27/06/21 - 21/06/21","valor":272,"lo":234,"hi":299},
{"semana":"04/07/21 - 28/06/21","valor":215,"lo":178,"hi":252},
{"semana":"11/07/21 - 05/07/21","valor":208,"lo":178,"hi":238},
{"semana":"18/07/21 - 12/07/21","valor":259,"lo":237,"hi":281},
{"semana":"25/07/21 - 19/07/21","valor":275,"lo":246,"hi":304},
{"semana":"01/08/21 - 26/07/21","valor":324,"lo":280,"hi":368},
{"semana":"08/08/21 - 02/08/21","valor":264,"lo":231,"hi":295},
{"semana":"15/08/21 - 09/08/21","valor":237,"lo":196,"hi":278},
{"semana":"22/08/21 - 16/08/21","valor":190,"lo":155,"hi":225},
{"semana":"29/08/21 - 23/08/21","valor":133,"lo":114,"hi":152},
{"semana":"05/09/21 - 30/08/21","valor":92,"lo":78,"hi":106},
{"semana":"12/09/21 - 06/09/21","valor":72,"lo":56,"hi":88},
{"semana":"19/09/21 - 13/09/21","valor":57,"lo":45,"hi":69},
{"semana":"26/09/21 - 20/09/21","valor":29,"lo":24,"hi":34},
{"semana":"03/10/21 - 27/09/21","valor":25,"lo":20,"hi":30},
{"semana":"10/10/21 - 04/10/21","valor":26,"lo":20,"hi":32},
{"semana":"17/10/21 - 11/10/21","valor":22,"lo":16,"hi":28},
{"semana":"24/10/21 - 18/10/21","valor":24,"lo":19,"hi":29},
{"semana":"31/10/21 - 25/10/21","valor":33,"lo":26,"hi":40},
{"semana":"07/11/21 - 01/11/21","valor":51,"lo":43,"hi":59},
{"semana":"14/11/21 - 08/11/21","valor":53,"lo":43,"hi":63},
{"semana":"21/11/21 - 15/11/21","valor":48,"lo":39,"hi":57},
{"semana":"28/11/21 - 22/11/21","valor":65,"lo":55,"hi":75}
]
},
"vconcat": [
{"spacing": 3, "vconcat": [
{
 "width": 705, "height": 175,
 "resolve": {"scale": {"y": "independent"}},
 "layer": [
  {"layer": [
   {"data": {"name": "diarios"},
    "mark": {"type": "bar", "size": 1.5, "opacity": 0.9},
    "encoding": {
     "x": {"field": "fecha", "type": "temporal", "scale": {"type": "utc", "domain": [1612224000000, 1638144000000]},
       "axis": {"values": [1612224000000,1612828800000,1613433600000,1614038400000,1614643200000,1615248000000,1615852800000,1616457600000,1617062400000,1617667200000,1618272000000,1618876800000,1619481600000,1620086400000,1620691200000,1621296000000,1621900800000,1622505600000,1623110400000,1623715200000,1624320000000,1624924800000,1625529600000,1626134400000,1626739200000,1627344000000,1627948800000,1628553600000,1629158400000,1629763200000,1630368000000,1630972800000,1631577600000,1632182400000,1632787200000,1633392000000,1633996800000,1634601600000,1635206400000,1635811200000,1636416000000,1637020800000,1637625600000],
        "tickCount": 100, "labelExpr": "utcFormat(datum.value, '%-d/%-m')", "labelAngle": 270, "labelFontSize": 9, "title": null, "grid": false, "labelPadding": 4, "labelOverlap": false, "domain": true, "domainColor": "#D9D9D9"}},
     "y": {"field": "casos", "type": "quantitative", "title": "CASOS", "scale": {"domain": [0, 800]},
       "axis": {"values": [0,100,200,300,400,500,600,700,800], "tickCount": 100, "grid": true, "labelPadding": 10, "titlePadding": 5}},
     "color": {"datum": "DIARIOS",
       "scale": {"domain": ["DIARIOS", "PROMEDIO CENTRADO 7 DÍAS", "INCIDENCIA", "RIESGO"], "range": ["#7BA7D9", "#002060", "#C00000", "#FFC000"]},
       "legend": {"title": null, "orient": "none", "legendX": 6, "legendY": 42, "symbolType": "M-1,-0.12H1V0.12H-1Z", "symbolSize": 324, "symbolStrokeWidth": 2, "labelFontSize": 9, "labelColor": "#404040", "rowPadding": 0, "labelOffset": 3, "labelLimit": 300}}
    }},
   {"data": {"name": "prom"},
    "mark": {"type": "line", "strokeWidth": 2.5},
    "encoding": {
     "x": {"field": "fecha", "type": "temporal"},
     "y": {"field": "valor", "type": "quantitative", "title": "CASOS"},
     "color": {"datum": "PROMEDIO CENTRADO 7 DÍAS"}
    }},
   {"data": {"values": [{}]},
    "mark": {"type": "rule", "strokeWidth": 3},
    "encoding": {"y": {"datum": 100, "title": "CASOS"}, "color": {"datum": "RIESGO"}}}
  ]},
  {"data": {"name": "incid"},
   "mark": {"type": "line", "strokeWidth": 2.5},
   "encoding": {
    "x": {"field": "fecha", "type": "temporal"},
    "y": {"field": "valor", "type": "quantitative", "scale": {"domain": [0, 1200]},
      "axis": {"orient": "right", "title": "SUMA  ÚLTIMOS 14 DÍAS / 100.000 HAB", "values": [0,200,400,600,800,1000,1200], "tickCount": 100, "format": ",d", "grid": false, "labelPadding": 5, "titlePadding": 3}},
    "color": {"datum": "INCIDENCIA"}
   }},
  {"layer": [
   {"data": {"values": [{}]},
    "mark": {"type": "point", "shape": "M-1,-0.161H1V0.161H-1Z", "size": 55696, "filled": true, "fill": "#E7E6E6", "stroke": "#BFBFBF", "strokeWidth": 1, "opacity": 1},
    "encoding": {"x": {"datum": {"year": 2021, "month": 7, "date": 1, "utc": true}, "type": "temporal"}, "y": {"datum": 1179, "scale": {"domain": [0, 1200]}, "axis": null}}},
   {"data": {"values": [{}]},
    "mark": {"type": "text", "text": "Casos Rio Negro", "fontWeight": "bold", "fontSize": 15, "align": "right", "baseline": "middle", "dx": -7, "dy": -6, "color": "#595959"},
    "encoding": {"x": {"datum": {"year": 2021, "month": 7, "date": 1, "utc": true}, "type": "temporal"}, "y": {"datum": 1179, "axis": null}}},
   {"data": {"values": [{}]},
    "mark": {"type": "text", "text": "x fecha de carga", "fontSize": 15, "align": "left", "baseline": "middle", "dx": -3, "dy": -6, "color": "#595959"},
    "encoding": {"x": {"datum": {"year": 2021, "month": 7, "date": 1, "utc": true}, "type": "temporal"}, "y": {"datum": 1179, "axis": null}}},
   {"data": {"values": [{}]},
    "mark": {"type": "text", "text": "(ÚLTIMOS 300 DÍAS)", "fontSize": 8, "align": "center", "baseline": "middle", "dx": 0, "dy": 11, "color": "#595959"},
    "encoding": {"x": {"datum": {"year": 2021, "month": 7, "date": 1, "utc": true}, "type": "temporal"}, "y": {"datum": 1179, "axis": null}}},
   {"data": {"values": [{}]},
    "mark": {"type": "point", "shape": "M-1,-0.786H1V0.786H-1Z", "size": 784, "filled": true, "fill": "#F2F2F2", "stroke": "#BFBFBF", "strokeWidth": 1, "opacity": 1},
    "encoding": {"x": {"datum": {"year": 2021, "month": 5, "date": 11, "hours": 16, "utc": true}, "type": "temporal"}, "y": {"datum": 891, "axis": null}}},
   {"data": {"values": [{}]},
    "mark": {"type": "text", "text": "24", "fontSize": 11, "align": "center", "baseline": "middle", "color": "#262626"},
    "encoding": {"x": {"datum": {"year": 2021, "month": 5, "date": 11, "hours": 16, "utc": true}, "type": "temporal"}, "y": {"datum": 891, "axis": null}}},
   {"data": {"values": [{}]},
    "mark": {"type": "point", "shape": "M-1,-0.479H1V0.479H-1Z", "size": 2304, "filled": true, "fill": "#F2F2F2", "stroke": "#BFBFBF", "strokeWidth": 1, "opacity": 1},
    "encoding": {"x": {"datum": {"year": 2021, "month": 5, "date": 11, "hours": 16, "utc": true}, "type": "temporal"}, "y": {"datum": 651, "axis": null}}},
   {"data": {"values": [{}]},
    "mark": {"type": "text", "text": "106", "fontSize": 11, "align": "center", "baseline": "middle", "color": "#262626"},
    "encoding": {"x": {"datum": {"year": 2021, "month": 5, "date": 11, "hours": 16, "utc": true}, "type": "temporal"}, "y": {"datum": 651, "axis": null}}}
  ]}
 ]
},
{
 "spacing": 12,
 "hconcat": [
  {
   "width": 398, "height": 219,
   "layer": [
    {"data": {"name": "duplicacion"},
     "mark": {"type": "line", "color": "#002060", "strokeWidth": 2.5, "clip": true},
     "encoding": {
      "x": {"field": "fecha", "type": "temporal", "scale": {"type": "utc", "domain": [1612224000000, 1638144000000]},
        "axis": {"values": [1612224000000,1612828800000,1613433600000,1614038400000,1614643200000,1615248000000,1615852800000,1616457600000,1617062400000,1617667200000,1618272000000,1618876800000,1619481600000,1620086400000,1620691200000,1621296000000,1621900800000,1622505600000,1623110400000,1623715200000,1624320000000,1624924800000,1625529600000,1626134400000,1626739200000,1627344000000,1627948800000,1628553600000,1629158400000,1629763200000,1630368000000,1630972800000,1631577600000,1632182400000,1632787200000,1633392000000,1633996800000,1634601600000,1635206400000,1635811200000,1636416000000,1637020800000,1637625600000],
         "tickCount": 100, "labelExpr": "utcFormat(datum.value, '%-d/%-m')", "labelAngle": 270, "labelFontSize": 8, "title": null, "grid": false, "labelPadding": 4, "labelOverlap": false, "domain": true, "domainColor": "#D9D9D9"}},
      "y": {"field": "dias", "type": "quantitative", "scale": {"domain": [0, 250]},
        "axis": {"title": null, "values": [0,50,100,150,200,250], "tickCount": 100, "grid": true, "labelPadding": 8}}
     }},
    {"data": {"name": "duplicacion"},
     "mark": {"type": "point", "filled": true, "size": 22, "color": "#002060", "opacity": 1, "clip": true},
     "encoding": {"x": {"field": "fecha", "type": "temporal"}, "y": {"field": "dias", "type": "quantitative"}}},
    {"data": {"values": [{}]},
     "mark": {"type": "point", "shape": "M-1,-0.162H1V0.162H-1Z", "size": 67081, "filled": true, "fill": "#F2F2F2", "stroke": "#BFBFBF", "strokeWidth": 1, "opacity": 1},
     "encoding": {"x": {"datum": {"year": 2021, "month": 7, "date": 9, "utc": true}, "type": "temporal"}, "y": {"datum": 229.5}}},
    {"data": {"values": [{}]},
     "mark": {"type": "text", "text": "Dias para duplicación Rio Negro", "fontWeight": "bold", "fontSize": 17, "align": "center", "baseline": "middle", "dy": -7, "color": "#595959"},
     "encoding": {"x": {"datum": {"year": 2021, "month": 7, "date": 9, "utc": true}, "type": "temporal"}, "y": {"datum": 229.5}}},
    {"data": {"values": [{}]},
     "mark": {"type": "text", "text": "(calculada con datos de 7 días anteriores)", "fontSize": 11, "align": "center", "baseline": "middle", "dy": 13, "color": "#595959"},
     "encoding": {"x": {"datum": {"year": 2021, "month": 7, "date": 9, "utc": true}, "type": "temporal"}, "y": {"datum": 229.5}}},
    {"data": {"values": [{}]},
     "mark": {"type": "point", "shape": "M-1,-1.1H1V1.1H-1Z", "size": 900, "filled": true, "fill": "#F2F2F2", "stroke": "#BFBFBF", "strokeWidth": 1, "opacity": 1},
     "encoding": {"x": {"datum": {"year": 2021, "month": 11, "date": 27, "hours": 12, "utc": true}, "type": "temporal"}, "y": {"datum": 229}}},
    {"data": {"values": [{}]},
     "mark": {"type": "text", "text": "989", "fontSize": 10, "align": "center", "baseline": "middle", "color": "#262626"},
     "encoding": {"x": {"datum": {"year": 2021, "month": 11, "date": 27, "hours": 12, "utc": true}, "type": "temporal"}, "y": {"datum": 229}}}
   ]
  },
  {
   "spacing": 0,
   "vconcat": [
    {"width": 253, "height": 4, "data": {"values": [{}]}, "mark": {"type": "point", "opacity": 0}, "encoding": {}},
    {
     "width": 253, "height": 175,
     "title": {"text": "Nuevos Casos vs Total de Casos Rio Negro", "subtitle": "(cada punto es el promedio de los últimos 7 días)", "fontSize": 14, "fontWeight": "bold", "color": "#595959", "subtitleFontSize": 9, "subtitleColor": "#595959", "anchor": "middle", "dx": -16, "offset": 12, "subtitlePadding": 4, "font": "Lato", "subtitleFont": "Lato"},
     "view": {"stroke": "#D9D9D9"},
     "data": {"name": "nuevos"},
     "mark": {"type": "point", "filled": true, "size": 45, "color": "#FFC000", "opacity": 1},
     "encoding": {
      "x": {"field": "total", "type": "quantitative", "scale": {"type": "log", "domain": [10000, 1000000]},
        "axis": {"title": "TOTAL DE CASOS", "values": [10000, 100000, 1000000], "tickCount": 100, "format": "d", "grid": true, "titleFontWeight": "bold", "titleFontSize": 9.5, "labelPadding": 6, "titlePadding": 8}},
      "y": {"field": "nuevos", "type": "quantitative", "scale": {"type": "log", "domain": [10, 10000]},
        "axis": {"title": "NUEVOS CASOS", "values": [10, 100, 1000, 10000], "tickCount": 100, "format": "d", "grid": true, "titleFontWeight": "bold", "titleFontSize": 9.5, "labelPadding": 6, "titlePadding": 8}}
     }
    }
   ]
  }
 ]
}
]},
{"spacing": 21, "vconcat": [
{
 "width": 700, "height": 139,
 "resolve": {"scale": {"y": "independent"}},
 "layer": [
  {"layer": [
   {"data": {"values": [{}]},
    "mark": {"type": "rule", "strokeWidth": 2.5},
    "encoding": {
     "y": {"datum": 1.2, "title": "RAZÓN DE CASOS", "scale": {"domain": [0.4, 2.4]},
       "axis": {"values": [0.4,0.6,0.8,1.0,1.2,1.4,1.6,1.8,2.0,2.2,2.4], "tickCount": 100, "format": ".2f", "grid": true, "labelPadding": 8, "titlePadding": 6, "titleFontSize": 9.5}},
     "color": {"datum": "RIESGO",
       "scale": {"domain": ["RAZÓN DE CASOS", "RIESGO", "FACTOR DE CRECIMIENTO (promedio últimos 7 días)"], "range": ["#C00000", "#FFC000", "#002060"]},
       "legend": {"title": null, "orient": "none", "legendX": 221, "legendY": -24, "fillColor": "#F2F2F2", "strokeColor": "#BFBFBF", "padding": 5, "symbolType": "M-1,-0.1H1V0.1H-1Z", "symbolSize": 256, "symbolStrokeWidth": 2, "labelFontSize": 7.5, "labelColor": "#404040", "rowPadding": 0, "labelOffset": 2, "labelLimit": 300}}
    }},
   {"data": {"name": "razon"},
    "mark": {"type": "line", "strokeWidth": 2.2},
    "encoding": {
     "x": {"field": "fecha", "type": "temporal", "scale": {"type": "utc", "domain": [1612224000000, 1638057600000]},
       "axis": {"values": [1612224000000,1612828800000,1613433600000,1614038400000,1614643200000,1615248000000,1615852800000,1616457600000,1617062400000,1617667200000,1618272000000,1618876800000,1619481600000,1620086400000,1620691200000,1621296000000,1621900800000,1622505600000,1623110400000,1623715200000,1624320000000,1624924800000,1625529600000,1626134400000,1626739200000,1627344000000,1627948800000,1628553600000,1629158400000,1629763200000,1630368000000,1630972800000,1631577600000,1632182400000,1632787200000,1633392000000,1633996800000,1634601600000,1635206400000,1635811200000,1636416000000,1637020800000,1637625600000],
        "tickCount": 100, "labelExpr": "utcFormat(datum.value, '%-d/%-m')", "labelAngle": 0, "labelFontSize": 9, "title": null, "grid": false, "labelPadding": 6, "labelOverlap": false, "labelBound": false}},
     "y": {"field": "valor", "type": "quantitative", "title": "RAZÓN DE CASOS"},
     "color": {"datum": "RAZÓN DE CASOS"}
    }}
  ]},
  {"data": {"name": "fc"},
   "mark": {"type": "line", "strokeWidth": 2.2},
   "encoding": {
    "x": {"field": "fecha", "type": "temporal"},
    "y": {"field": "valor", "type": "quantitative", "scale": {"domain": [0.8, 1.2]},
      "axis": {"orient": "right", "title": "FC", "values": [0.8,0.85,0.9,0.95,1.0,1.05,1.1,1.15,1.2], "tickCount": 100, "format": ".2f", "grid": false, "labelPadding": 8, "titlePadding": 6}},
    "color": {"datum": "FACTOR DE CRECIMIENTO (promedio últimos 7 días)"}
   }},
  {"layer": [
   {"data": {"values": [{}]},
    "mark": {"type": "point", "shape": "M-1,-0.0652H1V0.0652H-1Z", "size": 198025, "filled": true, "fill": "#E7E6E6", "stroke": "#BFBFBF", "strokeWidth": 1, "opacity": 1},
    "encoding": {"x": {"datum": {"year": 2021, "month": 7, "date": 3, "hours": 12, "utc": true}, "type": "temporal"}, "y": {"datum": 3.004, "scale": {"domain": [0.4, 2.4]}, "axis": null}}},
   {"data": {"values": [{}]},
    "mark": {"type": "text", "text": "RAZÓN DE CASOS Y FACTOR DE CRECIMIENTO Rio Negro", "fontSize": 17, "align": "center", "baseline": "middle", "color": "#595959"},
    "encoding": {"x": {"datum": {"year": 2021, "month": 7, "date": 3, "hours": 12, "utc": true}, "type": "temporal"}, "y": {"datum": 3.004, "axis": null}}},
   {"data": {"values": [{}]},
    "mark": {"type": "point", "shape": "M-1,-0.55H1V0.55H-1Z", "size": 1600, "filled": true, "fill": "#F2F2F2", "stroke": "#BFBFBF", "strokeWidth": 1, "opacity": 1},
    "encoding": {"x": {"datum": {"year": 2021, "month": 8, "date": 22, "utc": true}, "type": "temporal"}, "y": {"datum": 2.573, "axis": null}}},
   {"data": {"values": [{}]},
    "mark": {"type": "text", "text": "1,09", "fontSize": 11, "align": "center", "baseline": "middle", "color": "#262626"},
    "encoding": {"x": {"datum": {"year": 2021, "month": 8, "date": 22, "utc": true}, "type": "temporal"}, "y": {"datum": 2.573, "axis": null}}},
   {"data": {"values": [{}]},
    "mark": {"type": "point", "shape": "M-1,-0.0637H1V0.0637H-1Z", "size": 207025, "filled": false, "stroke": "#7F7F7F", "strokeWidth": 1, "opacity": 1},
    "encoding": {"x": {"datum": {"year": 2021, "month": 7, "date": 3, "hours": 12, "utc": true}, "type": "temporal"}, "y": {"datum": 0.688, "axis": null}}},
   {"data": {"values": [{}]},
    "mark": {"type": "text", "text": "PROMEDIO MAYOR QUE 1, CRECEN LOS CASOS, MENOR QUE 1, BAJAN LOS CASOS", "fontSize": 11, "align": "center", "baseline": "middle", "color": "#000000"},
    "encoding": {"x": {"datum": {"year": 2021, "month": 7, "date": 3, "hours": 12, "utc": true}, "type": "temporal"}, "y": {"datum": 0.688, "axis": null}}}
  ]}
 ]
},
{
 "width": 728, "height": 372,
 "data": {"name": "semanas"},
 "layer": [
  {"data": {"values": [{}]},
   "mark": {"type": "point", "shape": "M-1,-0.561H1V0.561H-1Z", "size": 643204, "filled": true, "opacity": 1, "strokeWidth": 0, "yOffset": 7,
     "fill": {"gradient": "radial", "x1": 0.55, "y1": 0.35, "r1": 0, "x2": 0.55, "y2": 0.35, "r2": 0.75, "stops": [{"offset": 0, "color": "#FFFFFF"}, {"offset": 1, "color": "#C8C8C8"}]}},
   "encoding": {"x": {"datum": 302.4, "type": "quantitative"}, "y": {"datum": "15/08/21 - 09/08/21", "type": "nominal"}}},
  {"data": {"values": [{}]}, "mark": {"type": "rule", "color": "#B0B0B0", "strokeWidth": 1}, "encoding": {"x": {"datum": 100}}},
  {"data": {"values": [{}]}, "mark": {"type": "rule", "color": "#B0B0B0", "strokeWidth": 1}, "encoding": {"x": {"datum": 200}}},
  {"data": {"values": [{}]}, "mark": {"type": "rule", "color": "#B0B0B0", "strokeWidth": 1}, "encoding": {"x": {"datum": 300}}},
  {"data": {"values": [{}]}, "mark": {"type": "rule", "color": "#B0B0B0", "strokeWidth": 1}, "encoding": {"x": {"datum": 400}}},
  {"data": {"values": [{}]}, "mark": {"type": "rule", "color": "#B0B0B0", "strokeWidth": 1}, "encoding": {"x": {"datum": 500}}},
  {"data": {"values": [{}]}, "mark": {"type": "rule", "color": "#B0B0B0", "strokeWidth": 1}, "encoding": {"x": {"datum": 600}}},
  {"data": {"values": [{}]}, "mark": {"type": "rule", "color": "#B0B0B0", "strokeWidth": 1}, "encoding": {"x": {"datum": 700}}},
  {"mark": {"type": "bar", "color": "#5B9BD5"},
   "encoding": {
    "y": {"field": "semana", "type": "nominal", "sort": null,
      "scale": {"domain": ["09/05/21 - 03/05/21","16/05/21 - 10/05/21","23/05/21 - 17/05/21","30/05/21 - 24/05/21","06/06/21 - 31/05/21","13/06/21 - 07/06/21","20/06/21 - 14/06/21","27/06/21 - 21/06/21","04/07/21 - 28/06/21","11/07/21 - 05/07/21","18/07/21 - 12/07/21","25/07/21 - 19/07/21","01/08/21 - 26/07/21","08/08/21 - 02/08/21","15/08/21 - 09/08/21","22/08/21 - 16/08/21","29/08/21 - 23/08/21","05/09/21 - 30/08/21","12/09/21 - 06/09/21","19/09/21 - 13/09/21","26/09/21 - 20/09/21","03/10/21 - 27/09/21","10/10/21 - 04/10/21","17/10/21 - 11/10/21","24/10/21 - 18/10/21","31/10/21 - 25/10/21","07/11/21 - 01/11/21","14/11/21 - 08/11/21","21/11/21 - 15/11/21","28/11/21 - 22/11/21"], "paddingInner": 0.33, "paddingOuter": 0.25},
      "axis": {"title": "DIAS", "offset": -66, "zindex": 1, "labelFontSize": 9.5, "labelColor": "#404040", "labelPadding": 8, "labelLimit": 200, "titleFontWeight": "bold", "titleFontSize": 9, "titleColor": "#404040", "titlePadding": 5}},
    "x": {"field": "valor", "type": "quantitative", "title": "CASOS CONFIRMADOS", "scale": {"domain": [-69.8, 700], "nice": false, "zero": false},
      "axis": {"values": [0,100,200,300,400,500,600,700], "tickCount": 100, "zindex": 1, "grid": false, "labelFontSize": 10, "labelPadding": 8, "titleFontWeight": "bold", "titleFontSize": 9, "titleColor": "#404040", "titleX": 350, "titlePadding": 6}}
   }},
  {"data": {"values": [{}]}, "mark": {"type": "rule", "color": "#000000", "strokeWidth": 1.5}, "encoding": {"x": {"datum": 0}}},
  {"mark": {"type": "errorbar", "ticks": {"size": 5}, "color": "#3B4A5C", "thickness": 1},
   "encoding": {
    "x": {"field": "lo", "type": "quantitative", "title": "CASOS CONFIRMADOS"},
    "x2": {"field": "hi"},
    "y": {"field": "semana", "type": "nominal", "sort": null}
   }},
  {"mark": {"type": "point", "shape": "M-1,-0.577H1V0.577H-1Z", "size": 676, "filled": true, "fill": "#D9D9D9", "opacity": 0.95, "strokeWidth": 0, "xOffset": 15},
   "encoding": {"x": {"field": "valor", "type": "quantitative"}, "y": {"field": "semana", "type": "nominal", "sort": null}}},
  {"mark": {"type": "text", "fontWeight": "bold", "fontSize": 11, "color": "#000000", "xOffset": 15, "align": "center", "baseline": "middle"},
   "encoding": {"x": {"field": "valor", "type": "quantitative"}, "y": {"field": "semana", "type": "nominal", "sort": null}, "text": {"field": "valor", "type": "quantitative"}}},
  {"data": {"values": [{}]},
   "mark": {"type": "point", "shape": "M-1,-0.0557H1V0.0557H-1Z", "size": 218089, "filled": true, "fill": "#F7F7F7", "stroke": "#BFBFBF", "strokeWidth": 1, "opacity": 1, "yOffset": -26},
   "encoding": {"x": {"datum": 302, "type": "quantitative"}, "y": {"datum": "09/05/21 - 03/05/21", "type": "nominal"}}},
  {"data": {"values": [{}]},
   "mark": {"type": "text", "text": "PROMEDIO CASOS CONFIRMADOS SEMANALES Rio Negro", "fontWeight": "bold", "fontSize": 17, "color": "#262626", "align": "center", "baseline": "middle", "yOffset": -26},
   "encoding": {"x": {"datum": 302, "type": "quantitative"}, "y": {"datum": "09/05/21 - 03/05/21", "type": "nominal"}}}
 ]
}
]}
]
}
